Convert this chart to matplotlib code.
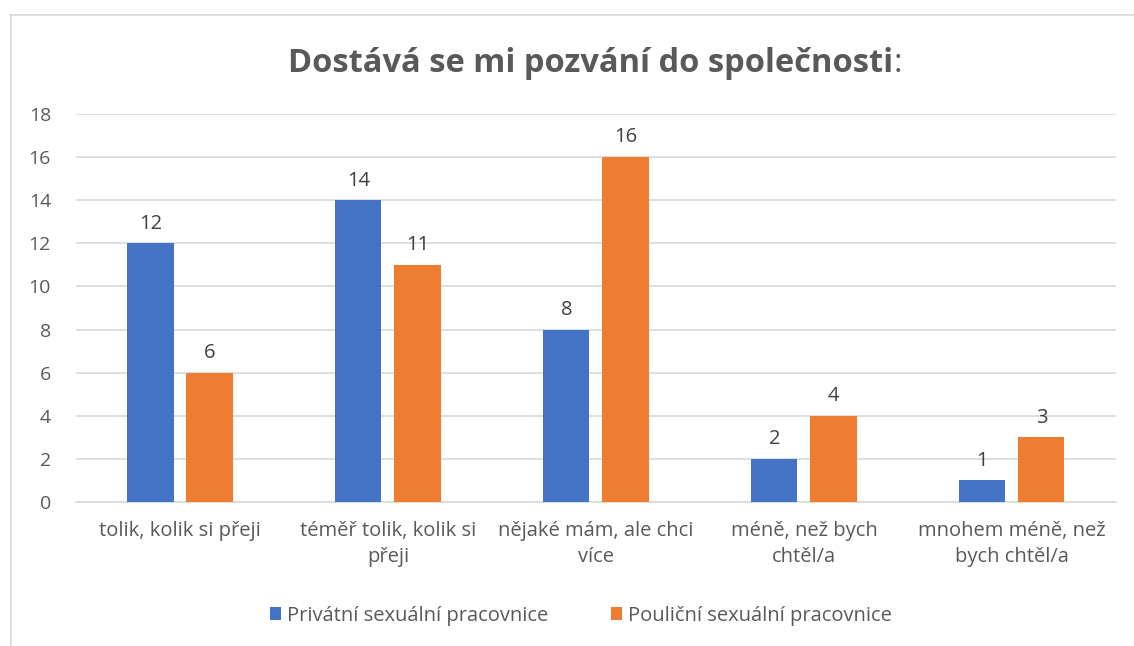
import matplotlib.pyplot as plt
import numpy as np
from matplotlib.lines import Line2D

plt.rcParams['font.family'] = ['Open Sans', 'DejaVu Sans']

# Data
categories = ["tolik, kolik si přeji", "téměř tolik, kolik si\npřeji",
              "nějaké mám, ale chci\nvíce", "méně, než bych\nchtěl/a",
              "mnohem méně, než\nbych chtěl/a"]
privatni = [12, 14, 8, 2, 1]
poulicni = [6, 11, 16, 4, 3]
series_names = ["Privátní sexuální pracovnice", "Pouliční sexuální pracovnice"]

blue = '#4472C4'
orange = '#ED7D31'
txt = '#595959'

fig = plt.figure(figsize=(11.34, 6.46), dpi=100)
ax = fig.add_axes([0.067, 0.223, 0.917, 0.6005])

x = np.arange(len(categories))
w = 0.222
b1 = ax.bar(x - 0.142, privatni, w, color=blue, label=series_names[0], zorder=3)
b2 = ax.bar(x + 0.142, poulicni, w, color=orange, label=series_names[1], zorder=3)

for bars in (b1, b2):
    for r in bars:
        ax.annotate(f"{int(r.get_height())}", (r.get_x() + r.get_width() / 2, r.get_height()),
                    xytext=(0, 7), textcoords='offset points', ha='center', va='bottom',
                    fontsize=14.5, color='#404040')

ax.set_xlim(-0.5, len(categories) - 0.5)
ax.set_ylim(0, 18)
ax.set_yticks(range(0, 19, 2))
ax.set_xticks(x)
ax.set_xticklabels(categories, fontsize=14.5, color=txt, linespacing=1.35)
ax.tick_params(axis='y', labelsize=14, labelcolor=txt, length=0, pad=18)
ax.tick_params(axis='x', length=0, pad=14)
ax.grid(axis='y', color='#D9D9D9', linewidth=1.2, zorder=0)
ax.set_axisbelow(True)
for s in ['top', 'right', 'left']:
    ax.spines[s].set_visible(False)
ax.spines['bottom'].set_color('#D9D9D9')
ax.spines['bottom'].set_linewidth(1.2)

# Title: bold text with regular colon
t = fig.text(591 / 1134, 0.902, "Dostává se mi pozvání do společnosti", ha='center', va='center',
             fontsize=23.5, fontweight='bold', color=txt)
fig.canvas.draw()
bb = t.get_window_extent()
fig.text(bb.x1 / fig.bbox.width, 0.902, ":", ha='left', va='center', fontsize=23.5, color=txt)

leg = fig.legend(handles=[b1, b2], loc='center', bbox_to_anchor=(0.512, 0.047), ncol=2,
                 frameon=False, fontsize=14.5, handlelength=0.55, handleheight=0.55,
                 handletextpad=0.3, columnspacing=3.1)
for t2 in leg.get_texts():
    t2.set_color(txt)

# chart frame
fig.add_artist(Line2D([10 / 1134, 1], [1 - 14.5 / 646, 1 - 14.5 / 646], color='#D9D9D9', linewidth=1.2))
fig.add_artist(Line2D([10.5 / 1134, 10.5 / 1134], [0, 1 - 14.5 / 646], color='#D9D9D9', linewidth=1.2))

fig.savefig('out.png', dpi=100)
